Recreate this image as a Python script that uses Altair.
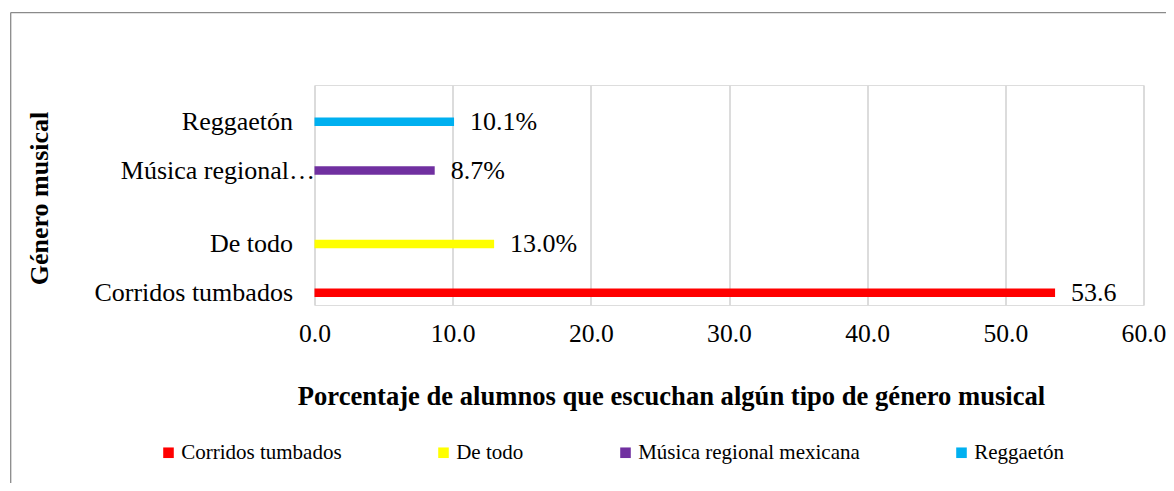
import altair as alt
import pandas as pd

# ---- data ----
categories = ["Corridos tumbados", "De todo", "Música regional mexicana", "Reggaetón"]
values = [53.6, 13.0, 8.7, 10.1]
value_labels = ["53.6", "13.0%", "8.7%", "10.1%"]
colors = ["#FF0000", "#FFFF00", "#7030A0", "#00B0F0"]
x_ticks = [0, 10, 20, 30, 40, 50, 60]

# row layout of the category axis (top to bottom), with empty spacer rows
y_rows = ["_gap0", "Reggaetón", "_gap1", "Música regional mexicana", "_gap2", "_gap3",
          "De todo", "_gap4", "Corridos tumbados"]

FONT = "Liberation Serif"

df = pd.DataFrame({"Genero": categories, "Valor": values, "Etiqueta": value_labels})

base = alt.Chart(df)

bars = base.mark_bar(size=8.5).encode(
    x=alt.X("Valor:Q",
            scale=alt.Scale(domain=[0, 60], nice=False, zero=True),
            axis=alt.Axis(values=x_ticks, format=".1f", grid=True, gridColor="#d9d9d9",
                          gridWidth=1.8, domain=False, ticks=False, labelFlush=False,
                          labelFont=FONT, labelFontSize=25.6, labelColor="#000000",
                          labelPadding=28, labelBaseline="middle",
                          title="Porcentaje de alumnos que escuchan algún tipo de género musical",
                          titleFont=FONT, titleFontSize=26.6, titleFontWeight="bold",
                          titleColor="#000000", titleX=356.5, titleY=91,
                          titleAlign="center", titleBaseline="middle")),
    y=alt.Y("Genero:N",
            scale=alt.Scale(domain=y_rows, paddingInner=0, paddingOuter=0),
            axis=alt.Axis(domain=False, ticks=False, tickSize=0, grid=False,
                          labelFont=FONT, labelFontSize=26, labelColor="#000000",
                          labelAlign="right", labelBaseline="middle", labelLimit=400,
                          labelPadding={"condition": {"test": "datum.value === 'Música regional mexicana'",
                                                      "value": 0},
                                        "value": 22},
                          labelExpr="indexof(datum.value, '_gap') === 0 ? '' : "
                                    "(datum.value === 'Música regional mexicana' ? 'Música regional…' : datum.value)",
                          title="Género musical", titleFont=FONT, titleFontSize=26,
                          titleFontWeight="bold", titleColor="#000000",
                          titleAngle=270, titleX=-275.5, titleY=113,
                          titleAlign="center", titleBaseline="middle")),
    color=alt.Color("Genero:N",
                    scale=alt.Scale(domain=categories, range=colors),
                    legend=alt.Legend(title=None, orient="none", direction="horizontal",
                                      columns=4, columnPadding=91,
                                      legendX=-156.5, legendY=357,
                                      symbolType="square", symbolSize=112,
                                      symbolStrokeWidth=0, symbolOpacity=1,
                                      labelFont=FONT, labelFontSize=21,
                                      labelColor="#000000", labelOffset=2.2,
                                      labelLimit=400, padding=0)),
)

labels = base.mark_text(align="left", baseline="middle", dx=16, font=FONT,
                        fontSize=26, color="#000000").encode(
    x="Valor:Q",
    y=alt.Y("Genero:N", scale=alt.Scale(domain=y_rows, paddingInner=0, paddingOuter=0)),
    text="Etiqueta:N",
)

frame_data = alt.Data(values=[{"k": 1}])
frame_top = alt.Chart(frame_data).mark_rule(color="#8a8a8a", strokeWidth=1.3).encode(
    x=alt.value(-304), x2=alt.value(900), y=alt.value(-72.3))
frame_left = alt.Chart(frame_data).mark_rule(color="#8a8a8a", strokeWidth=1.3).encode(
    x=alt.value(-303.8), y=alt.value(-72.3), y2=alt.value(420))

chart = alt.layer(bars, labels, frame_top, frame_left).properties(
    width=829, height=220,
    autosize=alt.AutoSizeParams(type="none"),
    padding={"left": 306.5, "top": 77, "right": 22.5, "bottom": 178},
).configure_view(stroke=None).configure(background="white", font=FONT)

chart.save("out.html", embed_options={"renderer": "svg", "actions": False})
